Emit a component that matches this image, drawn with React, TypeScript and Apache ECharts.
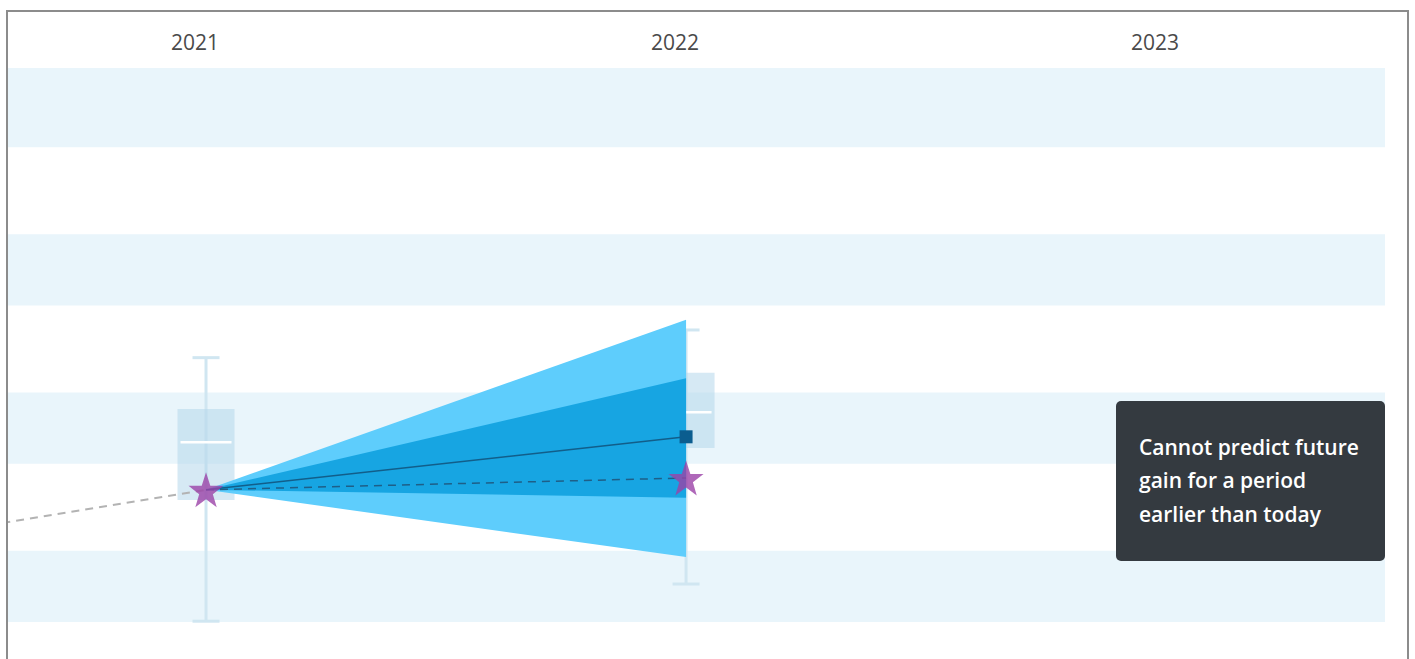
import React, { useEffect, useRef } from "react";
import * as echarts from "echarts";

// ---- data ----
const yearTicks = [2021, 2022, 2023];
const bandRanges = [
  [35, 25],
  [14, 5],
  [-6, -15],
  [-26, -35],
];
// [year, min, q1, median, q3, max]
const boxData = [
  [2021, -34.9, -19.6, -12.3, -8.1, -1.6],
  [2022, -30.2, -13.0, -8.5, -3.5, 1.9],
];
// [x0, y0, x1, yTop, yBottom]
const fanOuter = [2021, -18.3, 2022, 3.2, -26.8];
const fanInner = [2021, -18.3, 2022, -4.2, -19.3];
const historyLine = [
  [2020, -28.2],
  [2021, -18.3],
];
const actualLine = [
  [2021, -18.3],
  [2022, -16.8],
];
const forecastLine = [
  [2021, -18.3],
  [2022, -11.6],
];
const tooltipLines = ["Cannot predict future", "gain for a period", "earlier than today"];

const STAR =
  "path://M50,0 L61.8,35.1 L98.1,35.1 L68.8,56.7 L79.4,91 L50,70 L20.6,91 L31.2,56.7 L1.9,35.1 L38.2,35.1 Z";

export default function App() {
  const ref = useRef<HTMLDivElement>(null);
  useEffect(() => {
    if (!ref.current) return;
    const chart = echarts.init(ref.current, null, { renderer: "svg" });

    const fanRender = (color: string) => (params: any, api: any) => {
      const p0 = api.coord([api.value(0), api.value(1)]);
      const p1 = api.coord([api.value(2), api.value(3)]);
      const p2 = api.coord([api.value(2), api.value(4)]);
      return {
        type: "polygon",
        shape: { points: [p0, p1, p2] },
        style: { fill: color },
      };
    };

    chart.setOption({
      animation: false,
      grid: { left: 8, right: 30, top: 68, bottom: 37 },
      xAxis: {
        type: "value",
        position: "top",
        min: 2020.5875,
        max: 2023.456,
        axisLine: { show: false },
        axisTick: { show: false },
        splitLine: { show: false },
        axisLabel: {
          customValues: yearTicks,
          formatter: (v: number) => String(v),
          color: "#4a4a4a",
          fontSize: 21,
          fontFamily: "Open Sans",
          margin: 16,
          padding: [0, 22, 0, 0],
        },
      },
      yAxis: { type: "value", min: -35, max: 35, show: false },
      graphic: [
        {
          type: "rect",
          shape: { x: 7, y: 11, width: 1401, height: 700 },
          style: { fill: "none", stroke: "#8c8c8c", lineWidth: 2 },
          z: 100,
        },
        {
          type: "rect",
          z: 100,
          shape: { x: 1116, y: 401, width: 269, height: 160, r: 5 },
          style: { fill: "#343a40" },
        },
        {
          type: "text",
          z: 101,
          x: 1139,
          y: 430,
          style: {
            text: tooltipLines.join("\n"),
            fill: "#ffffff",
            fontSize: 21,
            fontWeight: 600,
            fontFamily: "Open Sans",
            lineHeight: 33.5,
            verticalAlign: "top",
          },
        },
      ],
      series: [
        {
          type: "custom",
          z: 1,
          clip: true,
          data: bandRanges,
          renderItem: (params: any, api: any) => {
            const cs = params.coordSys;
            const top = api.coord([2021, api.value(0)])[1];
            const bot = api.coord([2021, api.value(1)])[1];
            return {
              type: "rect",
              shape: { x: cs.x, y: top, width: cs.width, height: bot - top },
              style: { fill: "#e9f5fb" },
            };
          },
        },
        {
          type: "custom",
          z: 2,
          data: boxData,
          renderItem: (params: any, api: any) => {
            const x = api.value(0);
            const pMin = api.coord([x, api.value(1)]);
            const pQ1 = api.coord([x, api.value(2)]);
            const pMed = api.coord([x, api.value(3)]);
            const pQ3 = api.coord([x, api.value(4)]);
            const pMax = api.coord([x, api.value(5)]);
            const cx = pMin[0];
            const bw = 57;
            const cw = 27;
            const lineStyle = { stroke: "#d0e6f1", lineWidth: 3 };
            return {
              type: "group",
              children: [
                { type: "line", shape: { x1: cx, y1: pMax[1], x2: cx, y2: pMin[1] }, style: lineStyle },
                { type: "line", shape: { x1: cx - cw / 2, y1: pMax[1], x2: cx + cw / 2, y2: pMax[1] }, style: lineStyle },
                { type: "line", shape: { x1: cx - cw / 2, y1: pMin[1], x2: cx + cw / 2, y2: pMin[1] }, style: lineStyle },
                {
                  type: "rect",
                  shape: { x: cx - bw / 2, y: pQ3[1], width: bw, height: pQ1[1] - pQ3[1] },
                  style: { fill: "rgba(180,215,235,0.55)" },
                },
                {
                  type: "line",
                  shape: { x1: cx - bw / 2 + 3, y1: pMed[1], x2: cx + bw / 2 - 3, y2: pMed[1] },
                  style: { stroke: "#ffffff", lineWidth: 2.5 },
                },
              ],
            };
          },
        },
        {
          type: "custom",
          z: 3,
          data: [fanOuter],
          renderItem: fanRender("#5ecdfc"),
        },
        {
          type: "custom",
          z: 4,
          data: [fanInner],
          renderItem: fanRender("#17a5e2"),
        },
        {
          type: "line",
          z: 5,
          data: historyLine,
          symbol: "none",
          clip: true,
          lineStyle: { color: "#b3b3b3", width: 2, type: [8, 6] },
        },
        {
          type: "line",
          z: 5,
          data: actualLine,
          symbol: "none",
          lineStyle: { color: "#1e5f88", width: 1.5, type: [8, 6] },
        },
        {
          type: "line",
          z: 6,
          data: forecastLine.map((d, i) => ({
            value: d,
            symbol: i === forecastLine.length - 1 ? "rect" : "none",
            symbolSize: 13,
          })),
          showSymbol: true,
          itemStyle: { color: "#0b5d8f" },
          lineStyle: { color: "#125e8a", width: 1.5 },
        },
        {
          type: "scatter",
          z: 7,
          data: actualLine,
          symbol: STAR,
          symbolSize: 35,
          itemStyle: { color: "#9b42a8" },
        },
      ],
    });
    return () => chart.dispose();
  }, []);
  return (
    <div
      ref={ref}
      style={{ position: "fixed", left: 0, top: 0, width: 1415, height: 659, background: "#fff" }}
    />
  );
}
